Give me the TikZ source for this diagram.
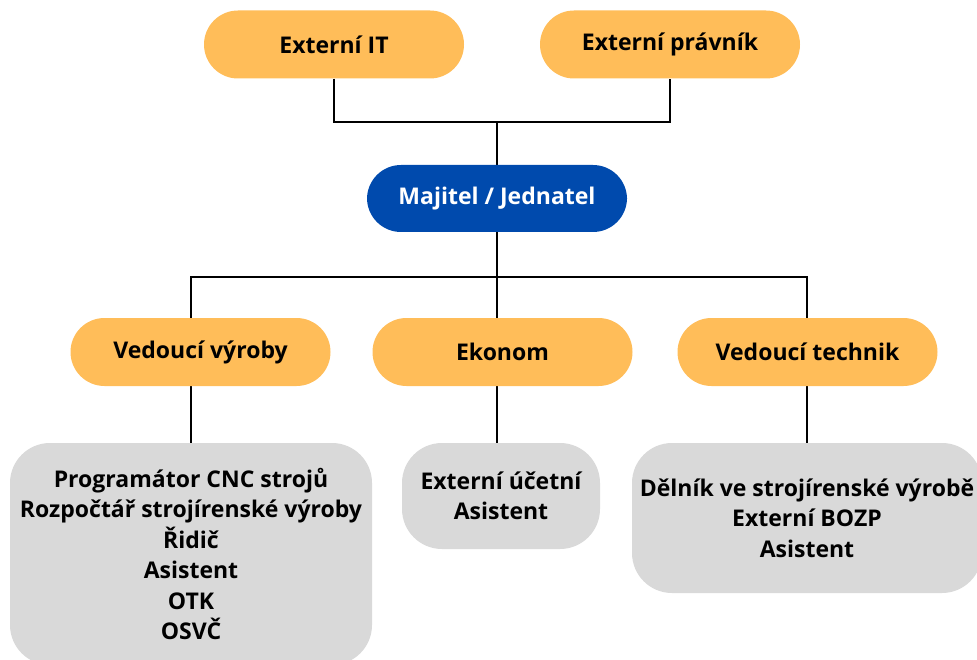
\documentclass[tikz,border=0pt]{standalone}
\usepackage{fontspec}
\setmainfont{Open Sans}
\usetikzlibrary{backgrounds}

\definecolor{oranzova}{HTML}{FFBD59}
\definecolor{modra}{HTML}{004AAD}
\definecolor{seda}{HTML}{D9D9D9}

\begin{document}
\begin{tikzpicture}[x=1pt, y=-1pt,
	Pozice/.style = {rectangle, rounded corners=34pt, fill=oranzova, text=black,
		minimum width=260pt, minimum height=68pt,
		font=\bfseries\fontsize{23}{27}\selectfont},
	Vedeni/.style = {Pozice, fill=modra, text=white, minimum height=67pt},
	Tym/.style = {rectangle, rounded corners=40pt, fill=seda, text=black, align=center,
		inner sep=0pt, font=\bfseries\fontsize{23}{30.5}\selectfont},
	Spoj/.style = {draw=black, line width=2.8pt}]
	\useasboundingbox (0,0) rectangle (977,660);
	\clip (0,0) rectangle (977,660);
	% vedeni a externisti
	\node[Pozice] (it) at (334,44.5) {Externí IT};
	\node[Pozice] (pravnik) at (670,44.5) {Externí právník};
	\node[Vedeni] (majitel) at (497,198.5) {Majitel / Jednatel};
	% vedouci useku
	\node[Pozice] (vyroba) at (200.5,352) {Vedoucí výroby};
	\node[Pozice] (ekonom) at (502.5,352) {Ekonom};
	\node[Pozice] (technik) at (807.5,352) {Vedoucí technik};
	% podrizeni
	\node[Tym, minimum width=362pt, minimum height=222pt] (lide vyroba) at (191,554)
		{Programátor CNC strojů\\Rozpočtář strojírenské výroby\\Řidič\\Asistent\\OTK\\OSVČ};
	\node[Tym, minimum width=198pt, minimum height=106pt] (lide ekonom) at (501,496)
		{Externí účetní\\Asistent};
	\node[Tym, minimum width=350pt, minimum height=150pt] (lide technik) at (807,518)
		{Dělník ve strojírenské výrobě\\Externí BOZP\\Asistent};
	\begin{scope}[on background layer]
		\coordinate (horni) at (497,122);
		\coordinate (dolni) at (497,277);
		\draw[Spoj] (it.south) |- (horni) -| (pravnik.south);
		\draw[Spoj] (horni) -- (majitel.north);
		\draw[Spoj] (majitel.south) -- (majitel.south |- lide ekonom.north);
		\draw[Spoj] (lide vyroba.north) |- (dolni) -| (lide technik.north);
	\end{scope}
\end{tikzpicture}
\end{document}
